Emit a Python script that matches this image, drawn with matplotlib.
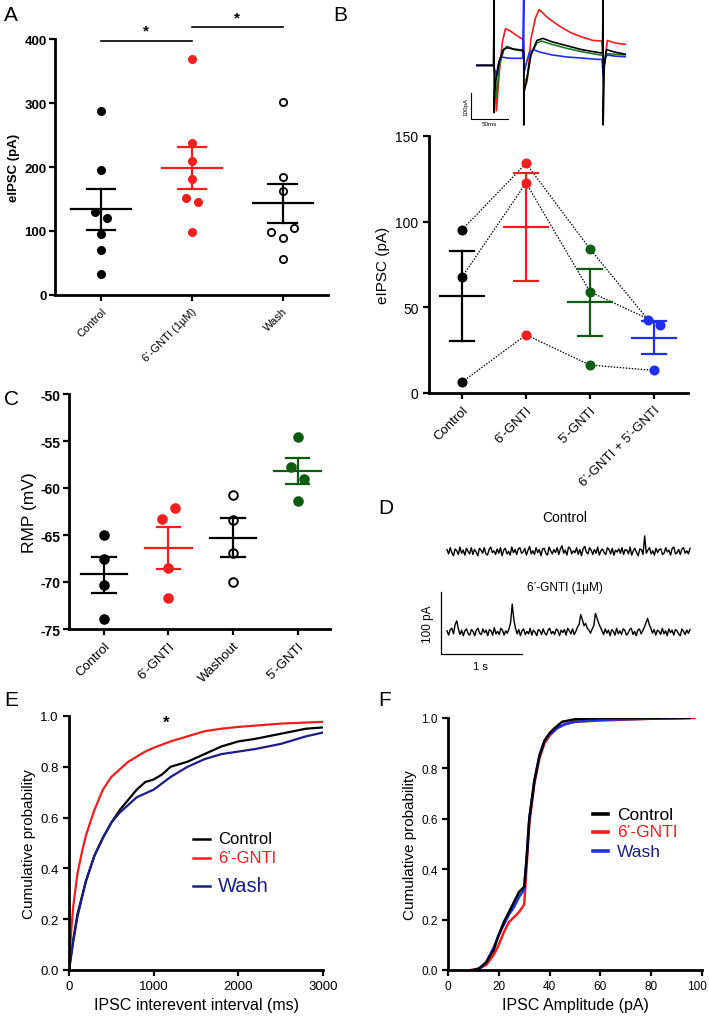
import numpy as np
import matplotlib
matplotlib.use("Agg")
import matplotlib.pyplot as plt
import matplotlib.transforms as mtrans

plt.rcParams['font.family'] = ['Liberation Sans', 'DejaVu Sans']

W, H = 709, 1020
fig = plt.figure(figsize=(W / 100, H / 100), dpi=100)

# ---------------- DATA ----------------
# Panel A
a_labels = ["Control", "6\u2019-GNTI (1\u00b5M)", "Wash"]
a_control = [287, 195, 130, 121, 96, 71, 33]
a_gnti = [369, 238, 209, 181, 151, 145, 98]
a_wash = [301, 185, 163, 105, 99, 89, 56]
a_mean = [134, 199, 143]
a_sem_hi = [166, 232, 174]
a_sem_lo = [102, 166, 112]

# Panel B
b_labels = ["Control", "6\u2019-GNTI", "5\u2019-GNTI", "6\u2019-GNTI + 5\u2019-GNTI"]
b_cell1 = [95.3, 134.0, 84.0, 42.8]
b_cell2 = [67.7, 122.6, 59.0, 39.9]
b_cell3 = [6.4, 33.9, 16.3, 13.2]
b_mean = [56.4, 96.9, 53.1, 32.1]
b_sem_hi = [82.7, 128.4, 72.6, 41.8]
b_sem_lo = [30.5, 65.2, 33.3, 22.6]

# Panel B inset traces (ms, pA)
tr_red_t = [0, 22, 23, 24.5, 26, 30, 34, 38, 45, 55, 61, 62, 62.5, 63, 67, 72, 78, 83, 95, 110, 125, 140, 155, 167, 168, 169, 171, 174, 185, 198]
tr_red_i = [0, 0, -10, -60, -173, -20, 90, 140, 130, 110, 100, 95, 40, -87, -60, 100, 180, 213, 180, 150, 125, 108, 95, 93, 60, -27, 20, 95, 85, 80]
tr_blk_t = [0, 22, 23, 23, 23.5, 25, 30, 35, 40, 50, 61, 62.5, 62.5, 63, 66, 72, 80, 88, 100, 120, 140, 160, 167.5, 168.5, 168.5, 170, 173, 185, 198]
tr_blk_i = [0, 0, 253, -180, -100, -60, 20, 60, 67, 62, 58, 50, -227, -100, -60, 40, 95, 103, 90, 75, 60, 50, 47, 253, -227, 0, 60, 50, 43]
tr_grn_t = [0, 22, 24, 26, 30, 36, 40, 50, 61, 62.5, 63, 67, 72, 80, 86, 100, 120, 140, 160, 168, 169, 172, 185, 198]
tr_grn_i = [0, 0, -30, -120, 0, 60, 73, 60, 55, 40, -60, -50, 40, 85, 93, 80, 65, 52, 42, 38, -20, 45, 42, 40]
tr_blu_t = [0, 22, 24, 26, 28, 32, 40, 50, 61, 62.4, 62.6, 63, 66, 70, 75, 85, 100, 120, 140, 160, 167, 168.5, 170, 173, 185, 198]
tr_blu_i = [0, 0, -20, -40, 0, 33, 28, 27, 27, 253, -30, -27, 10, 50, 60, 50, 40, 32, 28, 23, 23, -40, 10, 40, 35, 33]

# Panel C
c_labels = ["Control", "6\u2019-GNTI", "Washout", "5\u2019-GNTI"]
c_control = [-65.0, -67.6, -70.3, -73.9]
c_gnti = [-62.1, -63.3, -68.5, -71.7]
c_wash = [-60.7, -63.4, -66.9, -70.0]
c_5gnti = [-54.6, -57.8, -59.0, -61.4]
c_mean = [-69.2, -66.4, -65.3, -58.2]
c_sem_hi = [-67.3, -64.1, -63.2, -56.8]
c_sem_lo = [-71.2, -68.6, -67.3, -59.6]

# Panel D (pA, sampled evenly over 3 s)
d_control = [3, -4, 6, -2, -7, 4, 1, -5, 7, -3, 2, -6, 5, 0, -4, 6, -5, 3, -1, -7, 5, 2, -3, 6, -4, -6, 3, 7, -2, 1,
             -5, 4, -3, 6, -7, 2, 5, -4, 0, -6, 7, -2, 3, -5, 4, 6, -3, -1, 5, -6, 2, 8, -4, 1, -5, 6, -2, 3, -7, 4,
             5, -3, -6, 7, 1, -4, 3, -2, 6, -5, 4, 9, -3, 2, -6, 7, 5, -4, 1, -2, 6, -5, 3, -7, 4, 8, -1, -4, 6, 2,
             -5, 3, -3, 7, -6, 1, 4, -2, -5, 6, 3, -4, 5, -6, 2, -1, 4, -3, 6, -5, 3, 2, -4, 7, -6, 1, 5, -2, -7, 4,
             3, -5, 25, -3, 2, 6, -4, 1, -6, 5, -2, 3, 4, -5, -3, 6, -1, 2, -6, 5, 7, -4, -2, 3, -5, 4, 6, -3, 1, -4, 5]
d_gnti = [2, -5, 4, 6, -3, 12, 18, 5, -4, 3, -6, 2, 5, -3, -5, 4, 1, -6, 3, 6, -2, -4, 5, -1, 3, -6, 4, 2, -5, 7,
          -3, 1, -4, 6, 3, -5, 2, -2, 5, 15, 45, 20, 6, -3, 4, -6, 2, 5, -4, 1, -3, 6, -5, 3, 0, -6, 4, 2, -4, 5,
          -2, -5, 3, 6, -3, 1, -4, 5, 2, -6, 3, -1, 4, -5, 6, 2, -3, 5, -4, 1, 8, 12, 28, 20, 10, 14, 6, 3, -2, 5,
          10, 30, 22, 14, 8, 2, -4, 5, -2, 3, -6, 4, 1, -5, 6, -3, 2, -4, 5, 3, -5, -2, 4, 6, -4, 1, -6, 3, 5, -3,
          2, 8, 15, 22, 12, 6, -2, 4, -5, 3, 1, -4, 6, -3, 2, -6, 5, -1, 3, -5, 4, 2, -3, -6, 5, 1, -4, 3, -2, 4]

# Panel E (ms, cumulative probability)
e_ctrl_x = [0, 50, 100, 200, 300, 400, 500, 600, 700, 800, 900, 1000, 1100, 1200, 1400, 1600, 1800, 2000, 2200, 2500, 2800, 3000]
e_ctrl_y = [0, 0.12, 0.22, 0.35, 0.45, 0.52, 0.58, 0.63, 0.67, 0.71, 0.74, 0.75, 0.77, 0.80, 0.82, 0.85, 0.88, 0.90, 0.91, 0.93, 0.95, 0.955]
e_gnti_x = [0, 25, 50, 100, 150, 200, 300, 400, 500, 600, 700, 800, 900, 1000, 1200, 1400, 1600, 1800, 2000, 2500, 3000]
e_gnti_y = [0, 0.15, 0.25, 0.38, 0.46, 0.53, 0.63, 0.71, 0.76, 0.79, 0.82, 0.84, 0.86, 0.875, 0.90, 0.92, 0.94, 0.95, 0.957, 0.97, 0.977]
e_wash_x = [0, 50, 100, 200, 300, 400, 500, 600, 700, 800, 1000, 1200, 1400, 1600, 1800, 2000, 2200, 2500, 2800, 3000]
e_wash_y = [0, 0.11, 0.21, 0.35, 0.45, 0.52, 0.58, 0.62, 0.65, 0.68, 0.71, 0.76, 0.80, 0.83, 0.85, 0.86, 0.87, 0.89, 0.92, 0.935]

# Panel F (pA, cumulative probability)
f_ctrl_x = [10, 12, 15, 18, 20, 22, 24, 26, 28, 30, 31, 32, 34, 36, 38, 40, 42, 45, 50, 60, 95]
f_ctrl_y = [0, 0.005, 0.03, 0.08, 0.14, 0.19, 0.23, 0.27, 0.31, 0.33, 0.45, 0.60, 0.75, 0.85, 0.91, 0.94, 0.96, 0.985, 0.995, 1.0, 1.0]
f_gnti_x = [9, 12, 15, 18, 20, 22, 24, 26, 28, 30, 31, 32, 34, 36, 38, 40, 43, 46, 50, 60, 80, 97]
f_gnti_y = [0, 0.005, 0.02, 0.06, 0.10, 0.15, 0.19, 0.21, 0.23, 0.26, 0.42, 0.58, 0.74, 0.84, 0.90, 0.93, 0.96, 0.975, 0.985, 0.99, 0.997, 1.0]
f_wash_x = [11, 13, 15, 18, 20, 22, 24, 26, 28, 30, 31, 32, 34, 36, 38, 40, 43, 46, 50, 60, 93]
f_wash_y = [0, 0.01, 0.03, 0.09, 0.14, 0.18, 0.22, 0.25, 0.29, 0.32, 0.45, 0.60, 0.75, 0.85, 0.91, 0.935, 0.96, 0.975, 0.985, 0.993, 1.0]

# ---------------- STYLE ----------------
RED = "#f21d1d"
GREEN = "#0d5c12"
BLUE = "#1f2ff0"
NAVY = "#1c1c8c"


def ax_px(l, t, r, b):
    return fig.add_axes([l / W, 1 - b / H, (r - l) / W, (b - t) / H])


def style_axes(ax, lw=2.0):
    for s in ["top", "right"]:
        ax.spines[s].set_visible(False)
    for s in ["left", "bottom"]:
        ax.spines[s].set_linewidth(lw)
    ax.tick_params(direction="out", length=4, width=1.6)


def mean_sem(ax, x, m, hi, lo, color, hw, cw, lw=1.6):
    ax.plot([x - hw, x + hw], [m, m], color=color, lw=lw, zorder=4)
    ax.plot([x, x], [lo, hi], color=color, lw=lw, zorder=4)
    ax.plot([x - cw, x + cw], [hi, hi], color=color, lw=lw, zorder=4)
    ax.plot([x - cw, x + cw], [lo, lo], color=color, lw=lw, zorder=4)


def panel_label(txt, px, py):
    fig.text(px / W, 1 - py / H, txt, fontsize=15, ha="left", va="center")


# ---------------- PANEL A ----------------
axA = ax_px(55, 40, 328, 296)
style_axes(axA)
a_jit = [[0, 0, -0.066, 0.062, 0, 0, 0], [0, 0, 0, 0, -0.066, 0.066, 0], [0, 0, 0, 0.128, -0.128, 0, 0]]
for i, (vals, col, face) in enumerate([(a_control, "black", "black"), (a_gnti, RED, RED), (a_wash, "black", "white")]):
    xs = [i + j for j in a_jit[i]]
    axA.plot(xs, vals, "o", ms=5.2, mfc=face, mec=col, mew=1.3, ls="none", zorder=3)
    mean_sem(axA, i, a_mean[i], a_sem_hi[i], a_sem_lo[i], col, 0.33, 0.155)
axA.set_xlim(-0.505, 2.5)
axA.set_ylim(0, 400)
axA.set_yticks([0, 100, 200, 300, 400])
axA.set_xticks(range(3))
axA.set_xticklabels(a_labels, rotation=45, ha="right", rotation_mode="anchor", fontsize=8)
for lab in axA.get_yticklabels():
    lab.set_fontweight("bold")
    lab.set_fontsize(9.5)
axA.tick_params(axis="y", pad=2)
axA.set_ylabel("eIPSC (pA)", fontsize=9.5, fontweight="bold", labelpad=3)
axA.plot([0, 1], [397, 397], color="black", lw=1.2, clip_on=False)
axA.plot([1, 2], [418, 418], color="black", lw=1.2, clip_on=False)
axA.text(0.5, 402, "*", ha="center", va="bottom", fontsize=11, fontweight="bold")
axA.text(1.5, 423, "*", ha="center", va="bottom", fontsize=11, fontweight="bold")
panel_label("A", 4, 16)

# ---------------- PANEL B inset ----------------
axT = ax_px(462, 0, 632, 132)
axT.axis("off")
axT.plot(tr_red_t, tr_red_i, color=RED, lw=1.2)
axT.plot(tr_grn_t, tr_grn_i, color="#1b7a22", lw=1.2)
axT.plot(tr_blu_t, tr_blu_i, color=BLUE, lw=1.2)
axT.plot(tr_blk_t, tr_blk_i, color="black", lw=1.2)
axT.set_xlim(-20, 207)
axT.set_ylim(-250, 253)
axT.plot([-8, -8, 42], [-104, -204, -204], color="black", lw=0.8)
axT.text(-12, -154, "100pA", rotation=90, fontsize=4.5, ha="right", va="center")
axT.text(17, -212, "50ms", fontsize=4.5, ha="center", va="top")
panel_label("B", 333, 16)

# ---------------- PANEL B ----------------
axB = ax_px(429, 137, 688, 394)
style_axes(axB)
b_jit = [0, 0, 0, -0.094]
b_jit2 = [0, 0, 0, 0.10]
b_jit3 = [0, 0, 0, 0]
cols = ["black", RED, GREEN, BLUE]
for cell, jit in [(b_cell1, b_jit), (b_cell2, b_jit2), (b_cell3, b_jit3)]:
    xs = [i + j for i, j in enumerate(jit)]
    axB.plot(xs, cell, color="black", lw=0.9, ls=(0, (1.2, 1.2)), zorder=2)
    for i in range(4):
        axB.plot(xs[i], cell[i], "o", ms=6.2, color=cols[i], zorder=3)
for i in range(4):
    mean_sem(axB, i, b_mean[i], b_sem_hi[i], b_sem_lo[i], cols[i], 0.34, 0.19)
axB.set_xlim(-0.516, 3.53)
axB.set_ylim(0, 150)
axB.set_yticks([0, 50, 100, 150])
axB.set_xticks(range(4))
axB.set_xticklabels(b_labels, rotation=45, ha="right", rotation_mode="anchor", fontsize=9.5)
axB.tick_params(axis="y", labelsize=10)
axB.set_ylabel("eIPSC (pA)", fontsize=11, labelpad=4)

# ---------------- PANEL C ----------------
axC = ax_px(69, 395, 330, 630)
style_axes(axC)
c_jit = [[0, 0, 0, 0], [0.10, -0.10, 0, 0], [0, 0, 0, 0], [0, -0.10, 0.10, 0]]
c_cols = ["black", RED, "black", GREEN]
c_face = ["black", RED, "white", GREEN]
for i, vals in enumerate([c_control, c_gnti, c_wash, c_5gnti]):
    xs = [i + j for j in c_jit[i]]
    axC.plot(xs, vals, "o", ms=6.2, mfc=c_face[i], mec=c_cols[i], mew=1.4, ls="none", zorder=3)
    mean_sem(axC, i, c_mean[i], c_sem_hi[i], c_sem_lo[i], c_cols[i], 0.36, 0.18)
axC.set_xlim(-0.54, 3.5)
axC.set_ylim(-75, -50)
axC.set_yticks([-75, -70, -65, -60, -55, -50])
axC.set_yticklabels(["-75", "-70", "-65", "-60", "-55", "-50"])
axC.set_xticks(range(4))
axC.set_xticklabels(c_labels, rotation=45, ha="right", rotation_mode="anchor", fontsize=9.5)
for lab in axC.get_yticklabels():
    lab.set_fontsize(10)
    lab.set_fontweight("bold")
axC.tick_params(axis="y", pad=2)
axC.set_ylabel("RMP (mV)", fontsize=12.5, labelpad=3)
panel_label("C", 4, 400)

# ---------------- PANEL D ----------------
axD = ax_px(420, 500, 700, 680)
axD.axis("off")
axD.set_xlim(-0.333, 3.123)
axD.set_ylim(-75.8, 214.5)
tc = np.linspace(0, 3, len(d_control))
tg = np.linspace(0, 3, len(d_gnti))
axD.plot(tc, np.array(d_control) + 130, color="black", lw=1.0)
axD.plot(tg, d_gnti, color="black", lw=1.0)
axD.plot([-0.074, -0.074, 0.926], [64, -36, -36], color="black", lw=0.9)
axD.text(1.457, 185, "Control", fontsize=10, ha="center", va="center")
axD.text(1.457, 72, "6\u2019-GNTI (1\u00b5M)", fontsize=8.5, ha="center", va="center")
axD.text(0.407, -46, "1 s", fontsize=8, ha="center", va="top")
axD.text(-0.16, 14, "100 pA", rotation=90, fontsize=8.5, ha="right", va="center")
panel_label("D", 378, 508)

# ---------------- PANEL E ----------------
axE = ax_px(69, 717, 323, 971)
style_axes(axE)
axE.plot(e_ctrl_x, e_ctrl_y, color="black", lw=1.6)
axE.plot(e_wash_x, e_wash_y, color=NAVY, lw=1.6)
axE.plot(e_gnti_x, e_gnti_y, color=RED, lw=1.6)
axE.set_xlim(0, 3000)
axE.set_ylim(0, 1.0)
axE.set_xticks([0, 1000, 2000, 3000])
axE.set_yticks([0, 0.2, 0.4, 0.6, 0.8, 1.0])
axE.set_yticklabels(["0.0", "0.2", "0.4", "0.6", "0.8", "1.0"])
axE.tick_params(labelsize=9.5)
axE.set_xlabel("IPSC interevent interval (ms)", fontsize=11.5, labelpad=3)
axE.set_ylabel("Cumulative probability", fontsize=11, labelpad=3)
axE.text(1150, 0.945, "*", fontsize=12, fontweight="bold", ha="center", va="bottom")
for (y, lab, col, fs) in [(0.516, "Control", "black", 12), (0.441, "6\u2019-GNTI", RED, 12), (0.331, "Wash", NAVY, 14.5)]:
    axE.plot([0.488, 0.555], [y, y], transform=axE.transAxes, color=col, lw=1.8)
    axE.text(0.587, y, lab, transform=axE.transAxes, color=col, fontsize=fs, va="center", ha="left")
panel_label("E", 4, 700)

# ---------------- PANEL F ----------------
axF = ax_px(448, 719, 702, 971)
style_axes(axF)
axF.plot(f_gnti_x, f_gnti_y, color=RED, lw=1.8)
axF.plot(f_wash_x, f_wash_y, color=BLUE, lw=1.8)
axF.plot(f_ctrl_x, f_ctrl_y, color="black", lw=1.8)
axF.set_xlim(0, 100)
axF.set_ylim(0, 1.0)
axF.set_xticks([0, 20, 40, 60, 80, 100])
axF.set_yticks([0, 0.2, 0.4, 0.6, 0.8, 1.0])
axF.set_yticklabels(["0.0", "0.2", "0.4", "0.6", "0.8", "1.0"])
axF.tick_params(labelsize=8.5)
last = axF.get_xticklabels()[-1]
last.set_transform(last.get_transform() + mtrans.ScaledTranslation(-5 / 100, 0, fig.dpi_scale_trans))
axF.set_xlabel("IPSC Amplitude (pA)", fontsize=11.5, labelpad=3)
axF.set_ylabel("Cumulative probability", fontsize=11, labelpad=3)
for (y, lab, col, lcol) in [(0.619, "Control", "black", "black"), (0.548, "6\u2019-GNTI", RED, RED), (0.472, "Wash", NAVY, BLUE)]:
    axF.plot([0.571, 0.630], [y, y], transform=axF.transAxes, color=lcol, lw=2.6)
    axF.text(0.665, y, lab, transform=axF.transAxes, color=col, fontsize=12.5, va="center", ha="left")
panel_label("F", 378, 700)

fig.savefig("out.png", dpi=100)
